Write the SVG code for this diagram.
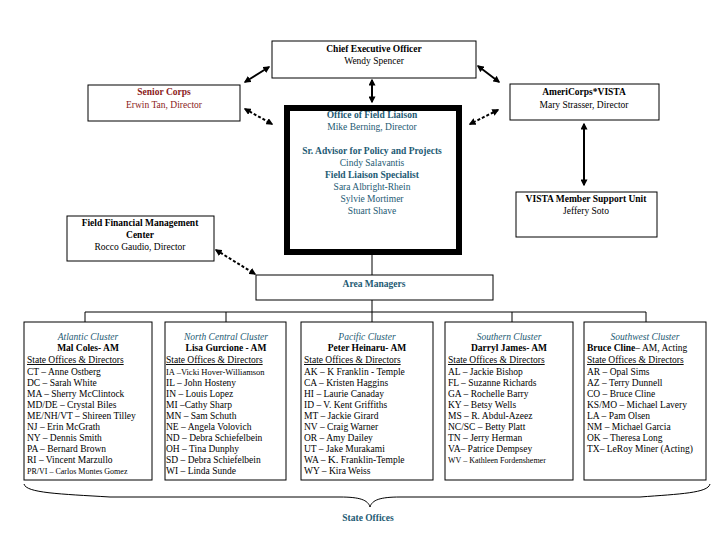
<svg xmlns="http://www.w3.org/2000/svg" width="720" height="540" viewBox="0 0 720 540" font-family="'Liberation Serif', 'DejaVu Serif', serif">
<style>
text{font-family:'Liberation Serif','DejaVu Serif',serif;font-size:9.5px;fill:#000}
.c{text-anchor:middle}
.b{font-weight:bold}
.t{fill:#1d5a73}
.r{fill:#8b1a1a}
.i{font-style:italic}
.u{text-decoration:underline}
.box{fill:#fff;stroke:#000;stroke-width:1}
.ln{stroke:#000;stroke-width:1;fill:none}
.ar{stroke:#000;stroke-width:2;fill:none;marker-start:url(#a);marker-end:url(#a)}
.da{stroke-dasharray:3,2}
</style>
<defs>
<marker id="a" viewBox="0 0 10 10" refX="8" refY="5" markerWidth="3.5" markerHeight="3.5" orient="auto-start-reverse"><path d="M0,0L10,5L0,10z" fill="#000"/></marker>
</defs>
<rect width="720" height="540" fill="#fff"/>
<g id="connectors">
<path class="ln" d="M372,254V275M372,300V312M85,312H646M85,312V322M226,312V322M372,312V322M512,312V322M646,312V322"/>
<path class="ar" d="M245,82L269,67"/>
<path class="ar" d="M478,66L499,82"/>
<path class="ar" d="M372,80V102"/>
<path class="ar da" d="M245,109L272,124"/>
<path class="ar da" d="M498,110L470,124"/>
<path class="ar" d="M584,124V185"/>
<path class="ar da" d="M216,250L255,274"/>
<path class="ln" d="M24,484C26,493 60,494 110,497H340C360,497 368,500 370,507C372,500 380,497 400,497H640C680,494 708,493 710,484"/>
</g>
<g id="ceo"><rect class="box" x="272" y="41" width="204" height="37"/>
<text class="c b" x="374" y="52">Chief Executive Officer</text><text class="c" x="374" y="64">Wendy Spencer</text></g>
<g id="senior"><rect class="box" x="88" y="85" width="152" height="36"/>
<text class="c b r" x="164" y="95">Senior Corps</text><text class="c r" x="164" y="108">Erwin Tan, Director</text></g>
<g id="americorps"><rect class="box" x="510" y="84" width="149" height="36"/>
<text class="c b" x="584" y="95">AmeriCorps*VISTA</text><text class="c" x="584" y="108">Mary Strasser, Director</text></g>
<g id="ofl"><rect x="287" y="108" width="172" height="144" fill="#fff" stroke="#000" stroke-width="6"/>
<text class="c b t" x="372" y="118">Office of Field Liaison</text><text class="c t" x="372" y="130">Mike Berning, Director</text>
<text class="c b t" x="372" y="154">Sr. Advisor for Policy and Projects</text><text class="c t" x="372" y="166">Cindy Salavantis</text>
<text class="c b t" x="372" y="178">Field Liaison Specialist</text><text class="c t" x="372" y="190">Sara Albright-Rhein</text>
<text class="c t" x="372" y="202">Sylvie Mortimer</text><text class="c t" x="372" y="214">Stuart Shave</text></g>
<g id="vista"><rect class="box" x="516" y="192" width="141" height="45"/>
<text class="c b" x="586" y="202">VISTA Member Support Unit</text><text class="c" x="586" y="214">Jeffery Soto</text></g>
<g id="ffmc"><rect class="box" x="67" y="216" width="147" height="45"/>
<text class="c b" x="140" y="226">Field Financial Management</text><text class="c b" x="140" y="238">Center</text><text class="c" x="140" y="250">Rocco Gaudio, Director</text></g>
<g id="am"><rect class="box" x="256" y="275" width="237" height="25"/>
<text class="c b t" x="374" y="287">Area Managers</text></g>
<g id="atlantic"><rect class="box" x="24" y="322" width="128" height="158"/>
<text class="c i t" x="88" y="340">Atlantic Cluster</text><text class="c b" x="88" y="351">Mal Coles- AM</text>
<text class="u" x="27" y="363">State Offices &amp; Directors</text>
<text x="27" y="375">CT – Anne Ostberg</text><text x="27" y="386">DC – Sarah White</text><text x="27" y="397">MA – Sherry McClintock</text>
<text x="27" y="408">MD/DE – Crystal Biles</text><text x="27" y="419">ME/NH/VT – Shireen Tilley</text><text x="27" y="430">NJ – Erin McGrath</text>
<text x="27" y="441">NY – Dennis Smith</text><text x="27" y="452">PA – Bernard Brown</text><text x="27" y="463">RI – Vincent Marzullo</text>
<text x="27" y="474" style="font-size:8px">PR/VI – Carlos Montes Gomez</text></g>
<g id="northcentral"><rect class="box" x="165" y="322" width="121" height="158"/>
<text class="c i t" x="226" y="340">North Central Cluster</text><text class="c b" x="226" y="351">Lisa Gurcione - AM</text>
<text class="u" x="166" y="363">State Offices &amp; Directors</text>
<text x="166" y="375" style="font-size:8.5px">IA –Vicki Hover-Williamson</text><text x="166" y="386">IL – John Hosteny</text><text x="166" y="397">IN – Louis Lopez</text>
<text x="166" y="408">MI –Cathy Sharp</text><text x="166" y="419">MN – Sam Schuth</text><text x="166" y="430">NE – Angela Volovich</text>
<text x="166" y="441">ND – Debra Schiefelbein</text><text x="166" y="452">OH – Tina Dunphy</text><text x="166" y="463">SD – Debra Schiefelbein</text>
<text x="166" y="474">WI – Linda Sunde</text></g>
<g id="pacific"><rect class="box" x="301" y="322" width="132" height="158"/>
<text class="c i t" x="367" y="340">Pacific Cluster</text><text class="c b" x="367" y="351">Peter Heinaru- AM</text>
<text class="u" x="304" y="363">State Offices &amp; Directors</text>
<text x="304" y="375">AK – K Franklin - Temple</text><text x="304" y="386">CA – Kristen Haggins</text><text x="304" y="397">HI – Laurie Canaday</text>
<text x="304" y="408">ID – V. Kent Griffiths</text><text x="304" y="419">MT – Jackie Girard</text><text x="304" y="430">NV – Craig Warner</text>
<text x="304" y="441">OR – Amy Dailey</text><text x="304" y="452">UT – Jake Murakami</text><text x="304" y="463">WA – <tspan style="font-size:11px">K.</tspan> Franklin-Temple</text>
<text x="304" y="474">WY – Kira Weiss</text></g>
<g id="southern"><rect class="box" x="445" y="322" width="128" height="158"/>
<text class="c i t" x="509" y="340">Southern Cluster</text><text class="c b" x="509" y="351">Darryl James- AM</text>
<text class="u" x="448" y="363">State Offices &amp; Directors</text>
<text x="448" y="375">AL – Jackie Bishop</text><text x="448" y="386">FL – Suzanne Richards</text><text x="448" y="397">GA – Rochelle Barry</text>
<text x="448" y="408">KY – Betsy Wells</text><text x="448" y="419">MS – R. Abdul-Azeez</text><text x="448" y="430">NC/SC – Betty Platt</text>
<text x="448" y="441">TN – Jerry Herman</text><text x="448" y="452">VA– Patrice Dempsey</text><text x="448" y="463" style="font-size:8px">WV – Kathleen Fordenshemer</text></g>
<g id="southwest"><rect class="box" x="584" y="322" width="122" height="158"/>
<text class="c i t" x="645" y="340">Southwest Cluster</text><text x="587" y="351"><tspan class="b">Bruce Cline</tspan>– AM, Acting</text>
<text class="u" x="587" y="363">State Offices &amp; Directors</text>
<text x="587" y="375">AR – Opal Sims</text><text x="587" y="386">AZ – Terry Dunnell</text><text x="587" y="397">CO – Bruce Cline</text>
<text x="587" y="408">KS/MO – Michael Lavery</text><text x="587" y="419">LA – Pam Olsen</text><text x="587" y="430">NM – Michael Garcia</text>
<text x="587" y="441">OK – Theresa Long</text><text x="587" y="452">TX– LeRoy Miner  (Acting)</text></g>
<g id="stateoffices"><text class="c b t" x="368" y="521">State Offices</text></g>
</svg>
